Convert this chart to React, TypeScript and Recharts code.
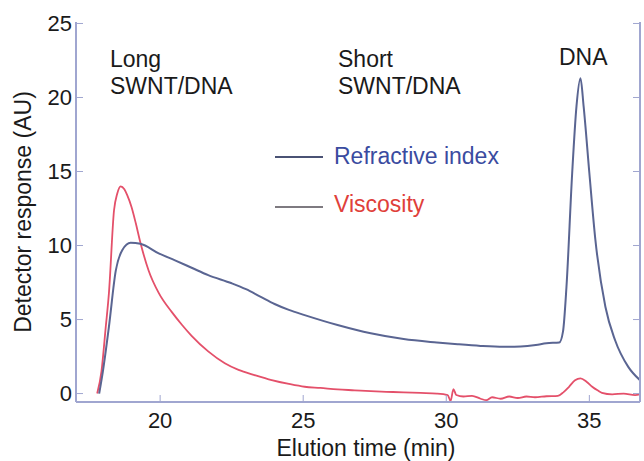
import { LineChart, Line, XAxis, YAxis } from 'recharts';

// refractive index trace (min, AU)
const riTime = [
  17.87, 18.0, 18.21, 18.45, 18.68, 18.97, 19.31, 19.95, 20.52, 21.1, 21.68, 22.5, 23.0, 23.5, 24.0,
  24.5, 25.05, 26.2, 27.36, 28.51, 29.67, 30.4, 31.2, 32.0, 32.6, 33.13, 33.5, 33.95, 34.08, 34.2,
  34.4, 34.55, 34.69, 34.8, 35.0, 35.21, 35.56, 35.9, 36.36, 36.77,
];
const riValue = [
  0, 1.5, 4.5, 8.3, 9.7, 10.19, 10.12, 9.47, 9.0, 8.5, 8.0, 7.45, 7.05, 6.55, 6.05,
  5.65, 5.3, 4.63, 4.07, 3.68, 3.45, 3.33, 3.22, 3.16, 3.18, 3.28, 3.4, 3.45, 4.2, 7.2,
  14.9, 19.4, 21.3, 19.4, 14.9, 10.4, 5.86, 3.6, 1.8, 0.9,
];

// viscosity trace (min, AU)
const viscTime = [
  17.8, 17.95, 18.1, 18.21, 18.39, 18.5, 18.62, 18.75, 18.85, 19.0, 19.15, 19.31, 19.6, 19.95, 20.41, 20.76, 21.1,
  21.68, 22.26, 22.74, 23.3, 23.9, 24.5, 25.05, 25.6, 26.2, 26.8, 27.36, 27.9, 28.51, 29.1, 29.67,
  30.05, 30.15, 30.25, 30.35, 30.6, 30.9, 31.2, 31.4, 31.6, 31.9, 32.2, 32.5, 32.8, 33.1, 33.5,
  33.9, 34.1, 34.29, 34.5, 34.69, 34.9, 35.1, 35.3, 35.44, 35.8, 36.2, 36.6, 36.77,
];
const viscValue = [
  0, 1.5, 4.5, 6.77, 12.4, 13.5, 14.0, 13.8, 13.4, 12.6, 11.5, 10.2, 8.3, 6.8, 5.5, 4.65, 3.9,
  2.85, 2.05, 1.6, 1.25, 0.91, 0.65, 0.46, 0.38, 0.28, 0.22, 0.16, 0.12, 0.08, 0.04, 0.0,
  -0.1, -0.5, 0.3, -0.1, -0.2, -0.15, -0.35, -0.45, -0.25, -0.35, -0.2, -0.3, -0.2, -0.25, -0.18,
  -0.15, 0.1, 0.46, 0.9, 1.03, 0.8, 0.46, 0.2, 0.05, -0.05, 0.0, -0.1, -0.05,
];

const xTicks = [20, 25, 30, 35];
const yTicks = [0, 5, 10, 15, 20, 25];

const riData = riTime.map((t, i) => ({ t, v: riValue[i] }));
const viscData = viscTime.map((t, i) => ({ t, v: viscValue[i] }));

const FONT = '"Liberation Sans", Arial, sans-serif';
const AXIS = '#a0a6d0';
const RI_COLOR = '#5a6592';
const VISC_COLOR = '#e4506a';
const X_DOMAIN: [number, number] = [17.06, 36.77];
const Y_DOMAIN: [number, number] = [-0.57, 25.1];

const tickStyle = { fill: '#1a1a1a', fontSize: 22, fontFamily: FONT };
const noLabel = () => <g />;

const txt = (left: number, top: number, s: string, color = '#1a1a1a', size = 23) => (
  <div style={{ position: 'absolute', left, top, fontSize: size, lineHeight: 1, color, whiteSpace: 'nowrap' }}>{s}</div>
);

export default function App() {
  return (
    <div style={{ position: 'absolute', left: 0, top: 0, width: 644, height: 461, overflow: 'hidden', background: '#fff', fontFamily: FONT }}>
      <LineChart width={650} height={461} margin={{ top: 22, right: 5, bottom: 0, left: 0 }}>
        <XAxis
          type="number" dataKey="t" domain={X_DOMAIN} ticks={xTicks} allowDataOverflow
          height={59} tickSize={-7} tickMargin={17}
          axisLine={{ stroke: AXIS, strokeWidth: 2 }} tickLine={{ stroke: AXIS }} tick={tickStyle}
        />
        <XAxis
          xAxisId="top" orientation="top" type="number" domain={X_DOMAIN} ticks={xTicks} allowDataOverflow
          height={0} tickSize={-7} axisLine={{ stroke: AXIS, strokeWidth: 2 }} tickLine={{ stroke: AXIS }} tick={noLabel}
        />
        <YAxis
          type="number" domain={Y_DOMAIN} ticks={yTicks} allowDataOverflow
          width={76} tickSize={-7} tickMargin={11}
          axisLine={{ stroke: AXIS, strokeWidth: 2 }} tickLine={{ stroke: AXIS }} tick={tickStyle}
        />
        <YAxis
          yAxisId="right" orientation="right" type="number" domain={Y_DOMAIN} ticks={yTicks} allowDataOverflow
          width={5} tickSize={-7} axisLine={{ stroke: AXIS, strokeWidth: 2 }} tickLine={{ stroke: AXIS }} tick={noLabel}
        />
        <Line data={viscData} dataKey="v" type="monotone" stroke={VISC_COLOR} strokeWidth={1.8} dot={false} isAnimationActive={false} />
        <Line data={riData} dataKey="v" type="monotone" stroke={RI_COLOR} strokeWidth={2} dot={false} isAnimationActive={false} />
      </LineChart>

      {/* axis titles */}
      <div style={{ position: 'absolute', left: 366, top: 437, transform: 'translateX(-50%)', fontSize: 23, lineHeight: 1, color: '#1a1a1a', whiteSpace: 'nowrap' }}>
        Elution time (min)
      </div>
      <div style={{ position: 'absolute', left: 23, top: 212, transform: 'translate(-50%, -50%) rotate(-90deg)', fontSize: 23, lineHeight: 1, color: '#1a1a1a', whiteSpace: 'nowrap' }}>
        Detector response (AU)
      </div>

      {/* peak annotations */}
      {txt(110, 48, 'Long')}
      {txt(110, 75, 'SWNT/DNA')}
      {txt(338, 48, 'Short')}
      {txt(338, 75, 'SWNT/DNA')}
      {txt(559, 46, 'DNA')}

      {/* legend */}
      <div style={{ position: 'absolute', left: 275, top: 156, width: 48, height: 2, background: '#4a5274' }} />
      <div style={{ position: 'absolute', left: 275, top: 206, width: 48, height: 2, background: '#7e7a80' }} />
      {txt(334, 145, 'Refractive index', '#3a4ba0', 23)}
      {txt(334, 193, 'Viscosity', '#e0403a', 23)}
    </div>
  );
}
